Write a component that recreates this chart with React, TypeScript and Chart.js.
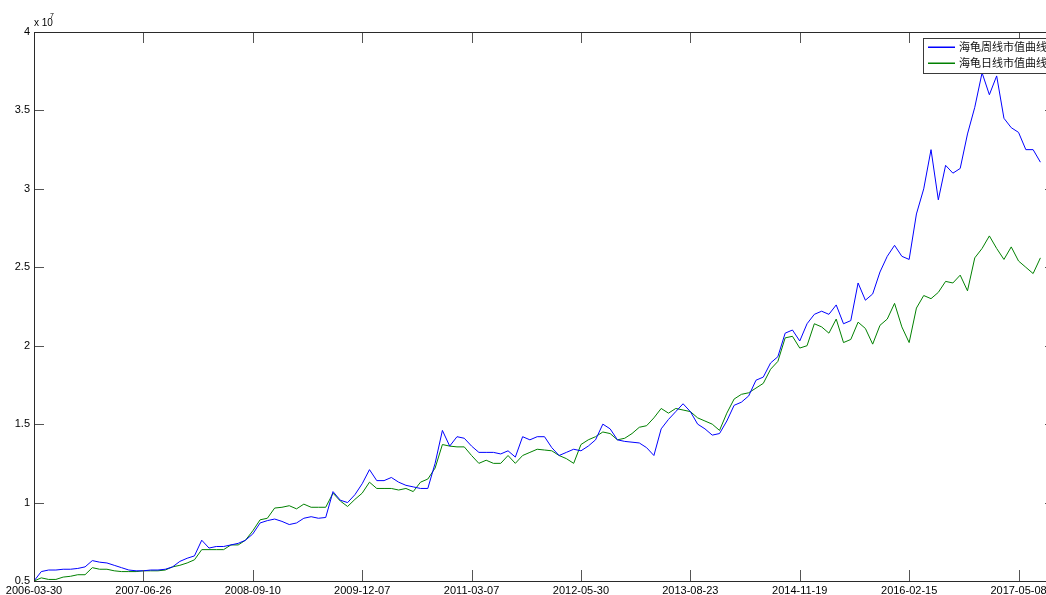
import React, { useEffect, useRef } from 'react';
import { Chart, registerables } from 'chart.js';

Chart.register(...registerables);

// trading-day spacing between stored samples, and between date ticks
const SAMPLE_STEP = 20;
const TICK_EVERY = 300;
const X_MAX = 2800;

const DATE_LABELS = [
  '2006-03-30', '2007-06-26', '2008-09-10', '2009-12-07', '2011-03-07',
  '2012-05-30', '2013-08-23', '2014-11-19', '2016-02-15', '2017-05-08',
];

const Y_TICKS = [0.5, 1, 1.5, 2, 2.5, 3, 3.5, 4];

const SERIES_NAMES = ['海龟周线市值曲线', '海龟日线市值曲线'];

// values in units of 10^7
const WEEKLY = [
  0.50, 0.56, 0.57, 0.57, 0.575, 0.575, 0.58, 0.59, 0.63, 0.62,
  0.615, 0.60, 0.585, 0.57, 0.565, 0.565, 0.57, 0.57, 0.575, 0.59,
  0.625, 0.645, 0.66, 0.76, 0.71, 0.72, 0.72, 0.73, 0.74, 0.76,
  0.80, 0.87, 0.885, 0.895, 0.88, 0.86, 0.87, 0.90, 0.91, 0.90,
  0.905, 1.07, 1.015, 1.00, 1.05, 1.12, 1.21, 1.14, 1.14, 1.16,
  1.13, 1.11, 1.10, 1.09, 1.09, 1.25, 1.46, 1.36, 1.42, 1.41,
  1.36, 1.32, 1.32, 1.32, 1.31, 1.33, 1.29, 1.42, 1.40, 1.42,
  1.42, 1.35, 1.30, 1.32, 1.34, 1.33, 1.36, 1.40, 1.50, 1.47,
  1.40, 1.39, 1.385, 1.38, 1.35, 1.30, 1.47, 1.53, 1.58, 1.63,
  1.58, 1.50, 1.47, 1.43, 1.44, 1.52, 1.62, 1.64, 1.68, 1.78,
  1.80, 1.89, 1.93, 2.08, 2.10, 2.03, 2.14, 2.20, 2.22, 2.20,
  2.26, 2.14, 2.16, 2.40, 2.29, 2.33, 2.47, 2.57, 2.64, 2.57,
  2.55, 2.84, 3.00, 3.25, 2.93, 3.15, 3.10, 3.13, 3.35, 3.52,
  3.74, 3.60, 3.72, 3.45, 3.39, 3.36, 3.25, 3.25, 3.17,
];

const DAILY = [
  0.50, 0.52, 0.51, 0.51, 0.525, 0.53, 0.54, 0.54, 0.585, 0.575,
  0.575, 0.565, 0.56, 0.56, 0.56, 0.565, 0.565, 0.565, 0.57, 0.59,
  0.60, 0.615, 0.635, 0.70, 0.70, 0.70, 0.70, 0.73, 0.73, 0.76,
  0.82, 0.89, 0.90, 0.965, 0.97, 0.98, 0.96, 0.99, 0.97, 0.97,
  0.97, 1.06, 1.01, 0.975, 1.02, 1.06, 1.13, 1.09, 1.09, 1.09,
  1.08, 1.09, 1.07, 1.13, 1.15, 1.22, 1.37, 1.36, 1.355, 1.355,
  1.30, 1.25, 1.27, 1.25, 1.25, 1.30, 1.25, 1.30, 1.32, 1.34,
  1.335, 1.33, 1.30, 1.28, 1.25, 1.37, 1.40, 1.42, 1.45, 1.44,
  1.40, 1.41, 1.44, 1.48, 1.49, 1.54, 1.60, 1.57, 1.60, 1.59,
  1.58, 1.54, 1.52, 1.50, 1.46, 1.57, 1.66, 1.69, 1.70, 1.73,
  1.76, 1.85, 1.90, 2.05, 2.06, 1.985, 2.00, 2.14, 2.12, 2.08,
  2.17, 2.02, 2.04, 2.15, 2.11, 2.01, 2.13, 2.17, 2.27, 2.12,
  2.02, 2.24, 2.32, 2.30, 2.34, 2.41, 2.40, 2.45, 2.35, 2.56,
  2.62, 2.70, 2.62, 2.55, 2.63, 2.54, 2.50, 2.46, 2.56,
];

const COLORS = ['#0000ff', '#008000'];
const FONT = '"Liberation Sans Narrow", "Arial Narrow", "Liberation Sans", Arial, sans-serif';
const CJK = '"Noto Sans CJK SC", "Noto Sans", sans-serif';

const toPoints = (vals: number[]) => vals.map((v, i) => ({ x: i * SAMPLE_STEP, y: v }));

const framePlugin = {
  id: 'matlabFrame',
  afterDatasetsDraw(chart: any) {
    const { ctx, chartArea, scales } = chart;
    const { left, right, top, bottom } = chartArea;
    const xs = scales.x;
    const ys = scales.y;
    ctx.save();
    // inward tick marks on all four sides
    ctx.strokeStyle = '#555555';
    ctx.lineWidth = 1;
    ctx.beginPath();
    xs.ticks.forEach((t: any) => {
      const px = Math.round(xs.getPixelForValue(t.value)) + 0.5;
      ctx.moveTo(px, bottom);
      ctx.lineTo(px, bottom - 11);
      ctx.moveTo(px, top);
      ctx.lineTo(px, top + 11);
    });
    ys.ticks.forEach((t: any) => {
      const py = Math.round(ys.getPixelForValue(t.value)) + 0.5;
      ctx.moveTo(left, py);
      ctx.lineTo(left + 10, py);
      ctx.moveTo(right, py);
      ctx.lineTo(right - 10, py);
    });
    ctx.stroke();
    // box
    ctx.strokeStyle = '#2a2a2a';
    ctx.lineWidth = 1;
    ctx.strokeRect(Math.round(left) + 0.5, Math.round(top) + 0.5, Math.round(right - left), Math.round(bottom - top));
    // exponent
    ctx.fillStyle = '#000000';
    ctx.textBaseline = 'alphabetic';
    ctx.textAlign = 'left';
    ctx.font = `10px ${FONT}`;
    ctx.fillText('x 10', 34, 26);
    ctx.font = `7px ${FONT}`;
    ctx.fillText('7', 50, 18);
    // legend
    const lx = 923;
    const ly = 38;
    ctx.fillStyle = '#ffffff';
    ctx.fillRect(lx, ly, 160, 35);
    ctx.strokeStyle = '#3a3a3a';
    ctx.strokeRect(lx + 0.5, ly + 0.5, 160, 35);
    ctx.font = `11px ${CJK}`;
    ctx.textBaseline = 'middle';
    SERIES_NAMES.forEach((name, i) => {
      const yy = ly + 8.5 + i * 16.5;
      ctx.fillStyle = COLORS[i];
      ctx.fillRect(lx + 5, Math.round(yy) - 0.5, 27, 1.5);
      ctx.fillStyle = '#111111';
      ctx.fillText(name, lx + 36, yy);
    });
    ctx.restore();
  },
};

export default function App() {
  const ref = useRef<HTMLCanvasElement | null>(null);
  useEffect(() => {
    if (!ref.current) return;
    const chart = new Chart(ref.current, {
      type: 'line',
      data: {
        datasets: [
          {
            label: SERIES_NAMES[0],
            data: toPoints(WEEKLY),
            borderColor: COLORS[0],
            borderWidth: 1,
            pointRadius: 0,
            tension: 0,
          },
          {
            label: SERIES_NAMES[1],
            data: toPoints(DAILY),
            borderColor: COLORS[1],
            borderWidth: 1,
            pointRadius: 0,
            tension: 0,
          },
        ],
      },
      options: {
        responsive: false,
        animation: false,
        devicePixelRatio: 1,
        layout: { padding: { top: 32, right: 15, left: 0, bottom: 0 } },
        plugins: { legend: { display: false }, tooltip: { enabled: false } },
        scales: {
          x: {
            type: 'linear',
            min: 0,
            max: X_MAX,
            grid: { display: false, drawTicks: false },
            border: { display: false },
            afterBuildTicks: (scale: any) => {
              scale.ticks = DATE_LABELS.map((_, i) => ({ value: i * TICK_EVERY }));
            },
            afterFit: (scale: any) => {
              scale.height = 14;
            },
            ticks: {
              autoSkip: false,
              maxRotation: 0,
              padding: 3,
              color: '#000000',
              font: { family: FONT, size: 11 },
              callback: (v: any) => DATE_LABELS[Math.round(Number(v) / TICK_EVERY)] ?? '',
            },
          },
          y: {
            min: 0.5,
            max: 4,
            grid: { display: false, drawTicks: false },
            border: { display: false },
            afterBuildTicks: (scale: any) => {
              scale.ticks = Y_TICKS.map((v) => ({ value: v }));
            },
            afterFit: (scale: any) => {
              scale.width = 34;
            },
            ticks: {
              padding: 4,
              color: '#000000',
              font: { family: FONT, size: 11 },
              callback: (v: any) => String(v),
            },
          },
        },
      },
      plugins: [framePlugin],
    } as any);
    return () => chart.destroy();
  }, []);
  return (
    <div style={{ position: 'fixed', left: 0, top: 0, width: 1046, height: 595, overflow: 'hidden', background: '#fff' }}>
      <canvas ref={ref} width={1070} height={595} style={{ width: 1070, height: 595, display: 'block' }} />
    </div>
  );
}
